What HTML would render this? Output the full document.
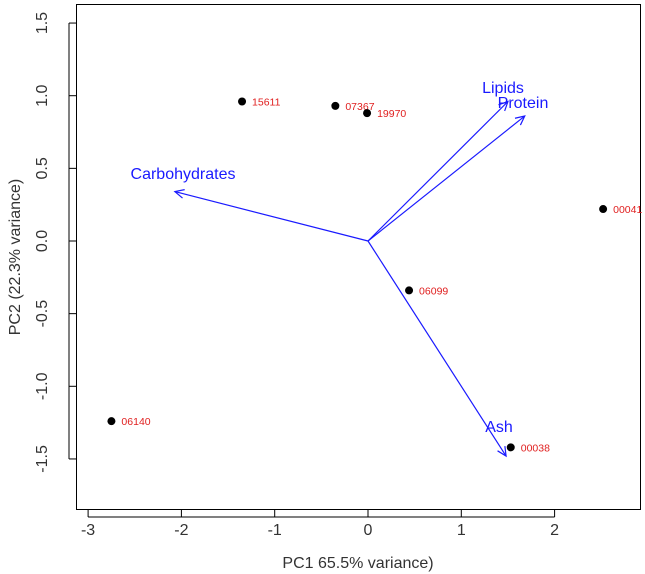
<!DOCTYPE html>
<html><head><meta charset="utf-8"><style>
body{margin:0;background:#fff}
svg{display:block;font-family:"Liberation Sans",Arial,sans-serif}
</style></head><body>
<svg id="c" width="645" height="574"></svg>
<script>
const sampleIds=["15611","07367","19970","00041","06099","06140","00038"];
const pc1Scores=[-1.35,-0.35,-0.01,2.52,0.44,-2.75,1.53];
const pc2Scores=[0.96,0.93,0.88,0.22,-0.34,-1.24,-1.42];
const loadingNames=["Carbohydrates","Lipids","Protein","Ash"];
const loadingPC1=[-2.07,1.5,1.68,1.48];
const loadingPC2=[0.34,0.96,0.86,-1.48];
const xTicks=[-3,-2,-1,0,1,2];
const yTicks=[-1.5,-1.0,-0.5,0.0,0.5,1.0,1.5];
const yTickLabels=["-1.5","-1.0","-0.5","0.0","0.5","1.0","1.5"];

const NS="http://www.w3.org/2000/svg";
const svg=document.getElementById('c');
const X=v=>368+v*93.3, Y=v=>241-v*145.3;
function mk(t,a,p){const e=document.createElementNS(NS,t);for(const k in a)e.setAttribute(k,a[k]);(p||svg).appendChild(e);return e;}
const box=mk('rect',{x:76.5,y:4.5,width:564,height:505,fill:'none',stroke:'#000','stroke-width':1});


xTicks.forEach(t=>{
  mk('line',{x1:X(t),x2:X(t),y1:510,y2:517,stroke:'#000'});
  const l=mk('text',{x:X(t),y:535,'text-anchor':'middle','font-size':16,fill:'#333'});l.textContent=t;
  
  
});
mk('line',{x1:X(-3),x2:X(2),y1:517,y2:517,stroke:'#000'});
yTicks.forEach((t,i)=>{
  mk('line',{x1:69,x2:76,y1:Y(t),y2:Y(t),stroke:'#000'});
  const l=mk('text',{x:0,y:0,transform:`translate(47,${Y(t)}) rotate(-90)`,'text-anchor':'middle','font-size':16,fill:'#333'});l.textContent=yTickLabels[i];
  
  
});
mk('line',{x1:69,x2:69,y1:Y(-1.5),y2:Y(1.5),stroke:'#000'});
const xt=mk('text',{x:358,y:568,'text-anchor':'middle','font-size':16,fill:'#333'});xt.textContent='PC1 65.5% variance)';


const yt=mk('text',{x:0,y:0,transform:'translate(20,257) rotate(-90)','text-anchor':'middle','font-size':16,fill:'#333'});yt.textContent='PC2 (22.3% variance)';


const labelPos=[[183,179],[503,93],[523,108],[499,432]];
loadingNames.forEach((n,i)=>{
  const x2=X(loadingPC1[i]),y2=Y(loadingPC2[i]),x1=X(0),y1=Y(0);
  const g=mk('g',{});
  
  
  mk('line',{x1,y1,x2,y2,stroke:'#1a1aff','stroke-width':1.2},g);
  const a=Math.atan2(y2-y1,x2-x1),L=10,s=0.45;
  mk('polyline',{points:`${x2-L*Math.cos(a-s)},${y2-L*Math.sin(a-s)} ${x2},${y2} ${x2-L*Math.cos(a+s)},${y2-L*Math.sin(a+s)}`,fill:'none',stroke:'#1a1aff','stroke-width':1.2},g);
  const t=mk('text',{x:labelPos[i][0],y:labelPos[i][1],'text-anchor':'middle','font-size':16,fill:'#1a1aff'},g);t.textContent=n;
});
sampleIds.forEach((id,i)=>{
  const g=mk('g',{});
  
  
  mk('circle',{cx:X(pc1Scores[i]),cy:Y(pc2Scores[i]),r:4,fill:'#000'},g);
  const t=mk('text',{x:X(pc1Scores[i])+10,y:Y(pc2Scores[i])+4,'font-size':10.5,fill:'#e02020'},g);t.textContent=id;
});
</script>
</body></html>
